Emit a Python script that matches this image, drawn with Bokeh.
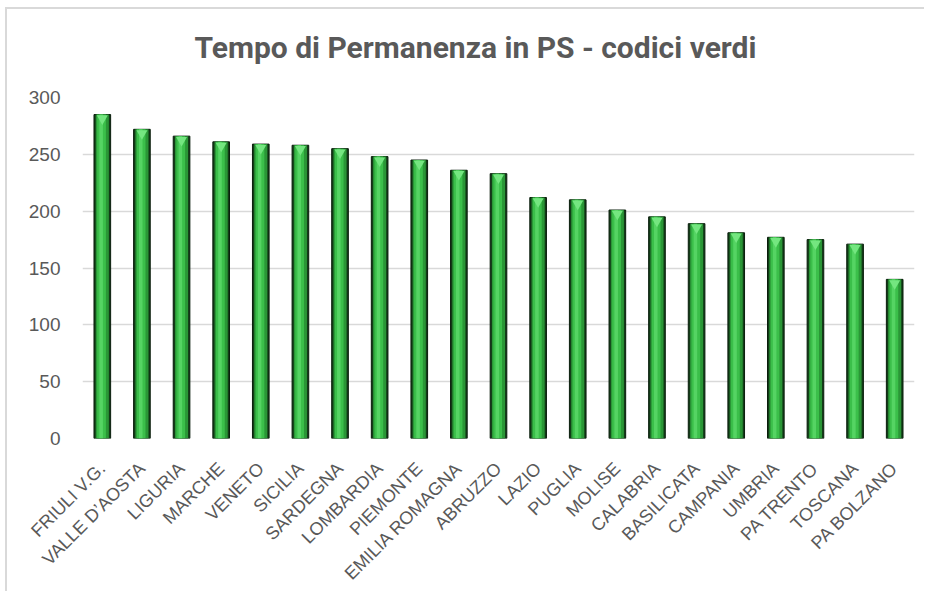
import math
from bokeh.plotting import figure
from bokeh.models import ColumnDataSource, FactorRange, Range1d, FixedTicker, Title
from bokeh.transform import dodge
from bokeh.embed import file_html
from bokeh.resources import INLINE

regions = ["FRIULI V.G.", "VALLE D\u2019AOSTA", "LIGURIA", "MARCHE", "VENETO", "SICILIA",
           "SARDEGNA", "LOMBARDIA", "PIEMONTE", "EMILIA ROMAGNA", "ABRUZZO", "LAZIO",
           "PUGLIA", "MOLISE", "CALABRIA", "BASILICATA", "CAMPANIA", "UMBRIA",
           "PA TRENTO", "TOSCANA", "PA BOLZANO"]
values = [285, 272, 266, 261, 259, 258, 255, 248, 245, 236, 233, 212,
          210, 201, 195, 189, 181, 177, 175, 171, 140]
y_ticks = [0, 50, 100, 150, 200, 250, 300]
title_text = "Tempo di Permanenza in PS - codici verdi"

src = ColumnDataSource(data=dict(r=regions, v=values))

p = figure(x_range=FactorRange(*regions, range_padding=0), y_range=Range1d(0, 300),
           width=919, height=584, output_backend="svg", toolbar_location=None,
           min_border_left=75, min_border_right=12, min_border_top=88, min_border_bottom=155,
           background_fill_color="white", border_fill_color="white")
p.styles = {"border-left": "2px solid #d9d9d9", "border-top": "2px solid #d9d9d9",
            "margin-left": "5px", "margin-top": "7px"}
p.outline_line_color = None

# main title (outermost) and a blank spacer title between it and the frame
p.title.text = title_text
p.title.align = "left"
p.title.offset = 112
p.title.text_font = "Roboto"
p.title.text_font_style = "bold"
p.title.text_font_size = "30px"
p.title.text_color = "#595959"
p.title.standoff = 10

spacer = Title(text=" ", text_font_size="10px", standoff=15)
p.add_layout(spacer, "above")

# bars layered to imitate the cylinder gradient
p.vbar(x="r", top="v", bottom=0, width=0.42, source=src,
       fill_color="#123c17", line_color="#0a1d0c", line_width=1)
p.vbar(x="r", top="v", bottom=0, width=0.33, source=src,
       fill_color="#2a9636", line_color=None)
p.vbar(x=dodge("r", -0.02, range=p.x_range), top="v", bottom=0, width=0.22, source=src,
       fill_color="#3bbf4a", line_color=None)
p.vbar(x=dodge("r", -0.03, range=p.x_range), top="v", bottom=0, width=0.09, source=src,
       fill_color="#55d463", line_color=None)
p.scatter(x="r", y=dodge("v", -3.5), source=src, marker="inverted_triangle", size=11,
          fill_color="#74e680", line_color=None)

p.ygrid.grid_line_color = "#d9d9d9"
p.ygrid.grid_line_width = 1.5
p.xgrid.grid_line_color = None

p.yaxis.ticker = FixedTicker(ticks=y_ticks)
p.yaxis.axis_line_color = None
p.yaxis.major_tick_line_color = None
p.yaxis.minor_tick_line_color = None
p.yaxis.major_label_text_font = "Liberation Sans"
p.yaxis.major_label_text_font_size = "19px"
p.yaxis.major_label_text_color = "#595959"
p.yaxis.major_label_standoff = 16

p.xaxis.axis_line_color = None
p.xaxis.major_tick_line_color = None
p.xaxis.minor_tick_line_color = None
p.xaxis.major_label_orientation = math.pi / 4
p.xaxis.major_label_text_font = "Liberation Sans"
p.xaxis.major_label_text_font_size = "18px"
p.xaxis.major_label_text_color = "#595959"
p.xaxis.major_label_standoff = 21

open("out.html", "w").write(file_html(p, INLINE))
